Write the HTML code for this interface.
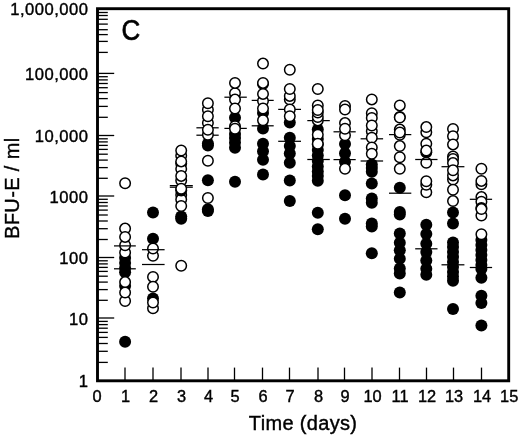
<!DOCTYPE html>
<html><head><meta charset="utf-8"><title>BFU-E / ml vs Time (days)</title>
<style>html,body{margin:0;padding:0;background:#fff}svg{display:block}text{font-family:"Liberation Sans",Arial,Helvetica,sans-serif;fill:#000;stroke:#000;stroke-width:0.4px}</style>
</head><body>
<svg width="520" height="437" viewBox="0 0 520 437">
<rect width="520" height="437" fill="#fff"/>
<rect x="97.5" y="8.7" width="411.2" height="372.1" fill="none" stroke="#000" stroke-width="2.9"/>
<g stroke="#000" stroke-width="1.3">
<line x1="97.5" y1="52.4" x2="107.8" y2="52.4"/>
<line x1="97.5" y1="41.4" x2="107.8" y2="41.4"/>
<line x1="97.5" y1="34.6" x2="107.8" y2="34.6"/>
<line x1="97.5" y1="29.7" x2="107.8" y2="29.7"/>
<line x1="97.5" y1="24.1" x2="107.8" y2="24.1"/>
<line x1="97.5" y1="19.3" x2="107.8" y2="19.3"/>
<line x1="97.5" y1="15.5" x2="107.8" y2="15.5"/>
<line x1="97.5" y1="12.5" x2="107.8" y2="12.5"/>
<line x1="97.5" y1="73.4" x2="114.2" y2="73.4"/>
<line x1="97.5" y1="117.3" x2="107.8" y2="117.3"/>
<line x1="97.5" y1="106.4" x2="107.8" y2="106.4"/>
<line x1="97.5" y1="98.6" x2="107.8" y2="98.6"/>
<line x1="97.5" y1="92.6" x2="107.8" y2="92.6"/>
<line x1="97.5" y1="87.7" x2="107.8" y2="87.7"/>
<line x1="97.5" y1="83.5" x2="107.8" y2="83.5"/>
<line x1="97.5" y1="79.9" x2="107.8" y2="79.9"/>
<line x1="97.5" y1="76.7" x2="107.8" y2="76.7"/>
<line x1="97.5" y1="135.5" x2="114.2" y2="135.5"/>
<line x1="97.5" y1="178.3" x2="107.8" y2="178.3"/>
<line x1="97.5" y1="167.6" x2="107.8" y2="167.6"/>
<line x1="97.5" y1="160.1" x2="107.8" y2="160.1"/>
<line x1="97.5" y1="154.2" x2="107.8" y2="154.2"/>
<line x1="97.5" y1="149.4" x2="107.8" y2="149.4"/>
<line x1="97.5" y1="145.4" x2="107.8" y2="145.4"/>
<line x1="97.5" y1="141.9" x2="107.8" y2="141.9"/>
<line x1="97.5" y1="138.8" x2="107.8" y2="138.8"/>
<line x1="97.5" y1="196.0" x2="114.2" y2="196.0"/>
<line x1="97.5" y1="239.5" x2="107.8" y2="239.5"/>
<line x1="97.5" y1="228.7" x2="107.8" y2="228.7"/>
<line x1="97.5" y1="221.0" x2="107.8" y2="221.0"/>
<line x1="97.5" y1="215.0" x2="107.8" y2="215.0"/>
<line x1="97.5" y1="210.1" x2="107.8" y2="210.1"/>
<line x1="97.5" y1="206.0" x2="107.8" y2="206.0"/>
<line x1="97.5" y1="202.5" x2="107.8" y2="202.5"/>
<line x1="97.5" y1="199.3" x2="107.8" y2="199.3"/>
<line x1="97.5" y1="257.5" x2="114.2" y2="257.5"/>
<line x1="97.5" y1="300.3" x2="107.8" y2="300.3"/>
<line x1="97.5" y1="289.6" x2="107.8" y2="289.6"/>
<line x1="97.5" y1="282.1" x2="107.8" y2="282.1"/>
<line x1="97.5" y1="276.2" x2="107.8" y2="276.2"/>
<line x1="97.5" y1="271.4" x2="107.8" y2="271.4"/>
<line x1="97.5" y1="267.4" x2="107.8" y2="267.4"/>
<line x1="97.5" y1="263.9" x2="107.8" y2="263.9"/>
<line x1="97.5" y1="260.8" x2="107.8" y2="260.8"/>
<line x1="97.5" y1="318.0" x2="114.2" y2="318.0"/>
<line x1="97.5" y1="362.4" x2="107.8" y2="362.4"/>
<line x1="97.5" y1="351.3" x2="107.8" y2="351.3"/>
<line x1="97.5" y1="343.5" x2="107.8" y2="343.5"/>
<line x1="97.5" y1="337.4" x2="107.8" y2="337.4"/>
<line x1="97.5" y1="332.4" x2="107.8" y2="332.4"/>
<line x1="97.5" y1="328.2" x2="107.8" y2="328.2"/>
<line x1="97.5" y1="324.6" x2="107.8" y2="324.6"/>
<line x1="97.5" y1="321.4" x2="107.8" y2="321.4"/>
<line x1="125" y1="380.8" x2="125" y2="367.6"/>
<line x1="153" y1="380.8" x2="153" y2="367.6"/>
<line x1="181" y1="380.8" x2="181" y2="367.6"/>
<line x1="208" y1="380.8" x2="208" y2="367.6"/>
<line x1="234.5" y1="380.8" x2="234.5" y2="367.6"/>
<line x1="262.5" y1="380.8" x2="262.5" y2="367.6"/>
<line x1="289.5" y1="380.8" x2="289.5" y2="367.6"/>
<line x1="318" y1="380.8" x2="318" y2="367.6"/>
<line x1="344.5" y1="380.8" x2="344.5" y2="367.6"/>
<line x1="372" y1="380.8" x2="372" y2="367.6"/>
<line x1="399.5" y1="380.8" x2="399.5" y2="367.6"/>
<line x1="426.5" y1="380.8" x2="426.5" y2="367.6"/>
<line x1="453.5" y1="380.8" x2="453.5" y2="367.6"/>
<line x1="481.5" y1="380.8" x2="481.5" y2="367.6"/>
</g>
<g stroke="#000" stroke-width="1.25">
<line x1="169.8" y1="185.6" x2="192.8" y2="185.6"/>
<line x1="169.8" y1="187.2" x2="192.8" y2="187.2"/>
<line x1="196.4" y1="127.8" x2="218.7" y2="127.8"/>
<line x1="196.4" y1="135.2" x2="218.7" y2="135.2"/>
<line x1="224.4" y1="97.2" x2="246.8" y2="97.2"/>
<line x1="224.4" y1="128.4" x2="246.8" y2="128.4"/>
<line x1="251.7" y1="100.4" x2="273.7" y2="100.4"/>
<line x1="251.7" y1="125.8" x2="273.7" y2="125.8"/>
<line x1="278.2" y1="109.4" x2="301.0" y2="109.4"/>
<line x1="278.2" y1="141.3" x2="301.0" y2="141.3"/>
<line x1="307.3" y1="120.6" x2="329.8" y2="120.6"/>
<line x1="307.3" y1="159.5" x2="329.8" y2="159.5"/>
<line x1="333.5" y1="131.8" x2="355.7" y2="131.8"/>
<line x1="333.5" y1="159.6" x2="355.7" y2="159.6"/>
<line x1="360.6" y1="138.8" x2="383.1" y2="138.8"/>
<line x1="360.6" y1="161.0" x2="383.1" y2="161.0"/>
<line x1="389.0" y1="134.6" x2="411.3" y2="134.6"/>
<line x1="389.0" y1="193.2" x2="411.3" y2="193.2"/>
<line x1="441.5" y1="166.7" x2="464.4" y2="166.7"/>
<line x1="441.5" y1="264.8" x2="464.4" y2="264.8"/>
<line x1="469.8" y1="199.3" x2="492.1" y2="199.3"/>
<line x1="469.8" y1="267.5" x2="492.1" y2="267.5"/>
</g>
<g fill="#000">
<circle cx="125.1" cy="258" r="6"/>
<circle cx="125.1" cy="263" r="6"/>
<circle cx="125.1" cy="268" r="6"/>
<circle cx="125.1" cy="272.2" r="6"/>
<circle cx="125.1" cy="286" r="6"/>
<circle cx="125.1" cy="341.7" r="6"/>
<circle cx="153.0" cy="212.5" r="6"/>
<circle cx="153.0" cy="238.7" r="6"/>
<circle cx="153.0" cy="298.4" r="6"/>
<circle cx="181.2" cy="216.5" r="6"/>
<circle cx="181.2" cy="218.8" r="6"/>
<circle cx="207.9" cy="143.5" r="6"/>
<circle cx="207.9" cy="145.6" r="6"/>
<circle cx="207.9" cy="180.2" r="6"/>
<circle cx="207.9" cy="209.2" r="6"/>
<circle cx="207.9" cy="211.1" r="6"/>
<circle cx="235.0" cy="117.7" r="6"/>
<circle cx="235.0" cy="134" r="6"/>
<circle cx="235.0" cy="138" r="6"/>
<circle cx="235.0" cy="142.5" r="6"/>
<circle cx="235.0" cy="147.7" r="6"/>
<circle cx="235.0" cy="181.7" r="6"/>
<circle cx="263.0" cy="113" r="6"/>
<circle cx="263.0" cy="128.5" r="6"/>
<circle cx="263.0" cy="143.8" r="6"/>
<circle cx="263.0" cy="151.3" r="6"/>
<circle cx="263.0" cy="159.8" r="6"/>
<circle cx="263.0" cy="174.5" r="6"/>
<circle cx="289.8" cy="122.5" r="6"/>
<circle cx="289.8" cy="137.7" r="6"/>
<circle cx="289.8" cy="146" r="6"/>
<circle cx="289.8" cy="153.5" r="6"/>
<circle cx="289.8" cy="162.7" r="6"/>
<circle cx="289.8" cy="180.6" r="6"/>
<circle cx="289.8" cy="201.0" r="6"/>
<circle cx="317.8" cy="129.6" r="6"/>
<circle cx="317.8" cy="139" r="6"/>
<circle cx="317.8" cy="144.5" r="6"/>
<circle cx="317.8" cy="150" r="6"/>
<circle cx="317.8" cy="155.5" r="6"/>
<circle cx="317.8" cy="161" r="6"/>
<circle cx="317.8" cy="166.5" r="6"/>
<circle cx="317.8" cy="171.5" r="6"/>
<circle cx="317.8" cy="176" r="6"/>
<circle cx="317.8" cy="180.7" r="6"/>
<circle cx="317.8" cy="212.8" r="6"/>
<circle cx="317.8" cy="229.2" r="6"/>
<circle cx="345.0" cy="144" r="6"/>
<circle cx="345.0" cy="153.3" r="6"/>
<circle cx="345.0" cy="161.8" r="6"/>
<circle cx="345.0" cy="195.2" r="6"/>
<circle cx="345.0" cy="218.8" r="6"/>
<circle cx="371.8" cy="164.5" r="6"/>
<circle cx="371.8" cy="168" r="6"/>
<circle cx="371.8" cy="171.8" r="6"/>
<circle cx="371.8" cy="183.5" r="6"/>
<circle cx="371.8" cy="198.4" r="6"/>
<circle cx="371.8" cy="202.7" r="6"/>
<circle cx="371.8" cy="223.4" r="6"/>
<circle cx="371.8" cy="226.6" r="6"/>
<circle cx="371.8" cy="253.3" r="6"/>
<circle cx="399.8" cy="187.7" r="6"/>
<circle cx="399.8" cy="212" r="6"/>
<circle cx="399.8" cy="214.6" r="6"/>
<circle cx="399.8" cy="233.5" r="6"/>
<circle cx="399.8" cy="242.7" r="6"/>
<circle cx="399.8" cy="250.3" r="6"/>
<circle cx="399.8" cy="258.7" r="6"/>
<circle cx="399.8" cy="268.5" r="6"/>
<circle cx="399.8" cy="273.5" r="6"/>
<circle cx="399.8" cy="292.5" r="6"/>
<circle cx="426.3" cy="224.8" r="6"/>
<circle cx="426.3" cy="234" r="6"/>
<circle cx="426.3" cy="243.8" r="6"/>
<circle cx="426.3" cy="252" r="6"/>
<circle cx="426.3" cy="260.5" r="6"/>
<circle cx="426.3" cy="268.8" r="6"/>
<circle cx="426.3" cy="274.7" r="6"/>
<circle cx="453.0" cy="212.5" r="6"/>
<circle cx="453.0" cy="223.5" r="6"/>
<circle cx="453.0" cy="242.4" r="6"/>
<circle cx="453.0" cy="247" r="6"/>
<circle cx="453.0" cy="252" r="6"/>
<circle cx="453.0" cy="257" r="6"/>
<circle cx="453.0" cy="262" r="6"/>
<circle cx="453.0" cy="267" r="6"/>
<circle cx="453.0" cy="272" r="6"/>
<circle cx="453.0" cy="276.5" r="6"/>
<circle cx="453.0" cy="280.8" r="6"/>
<circle cx="453.0" cy="309" r="6"/>
<circle cx="481.4" cy="240" r="6"/>
<circle cx="481.4" cy="245" r="6"/>
<circle cx="481.4" cy="250" r="6"/>
<circle cx="481.4" cy="255" r="6"/>
<circle cx="481.4" cy="260" r="6"/>
<circle cx="481.4" cy="265" r="6"/>
<circle cx="481.4" cy="269" r="6"/>
<circle cx="481.4" cy="277.8" r="6"/>
<circle cx="481.4" cy="295.7" r="6"/>
<circle cx="481.4" cy="303" r="6"/>
<circle cx="481.4" cy="325.4" r="6"/>
</g>
<g fill="#fff" stroke="#000" stroke-width="1.5">
<circle cx="125.1" cy="183.3" r="5.25"/>
<circle cx="125.1" cy="228.6" r="5.25"/>
<circle cx="125.1" cy="252.5" r="5.25"/>
<circle cx="125.1" cy="245.2" r="5.25"/>
<circle cx="125.1" cy="236.9" r="5.25"/>
<circle cx="125.1" cy="301.0" r="5.25"/>
<circle cx="125.1" cy="292.5" r="5.25"/>
<circle cx="125.1" cy="282.1" r="5.25"/>
<circle cx="153.0" cy="255.8" r="5.25"/>
<circle cx="153.0" cy="248.5" r="5.25"/>
<circle cx="153.0" cy="276.9" r="5.25"/>
<circle cx="153.0" cy="286.7" r="5.25"/>
<circle cx="153.0" cy="308.3" r="5.25"/>
<circle cx="153.0" cy="302.5" r="5.25"/>
<circle cx="181.2" cy="155.7" r="5.25"/>
<circle cx="181.2" cy="163.5" r="5.25"/>
<circle cx="181.2" cy="169" r="5.25"/>
<circle cx="181.2" cy="180.5" r="5.25"/>
<circle cx="181.2" cy="195" r="5.25"/>
<circle cx="181.2" cy="199.5" r="5.25"/>
<circle cx="207.9" cy="109.8" r="5.25"/>
<circle cx="207.9" cy="122.9" r="5.25"/>
<circle cx="207.9" cy="134.8" r="5.25"/>
<circle cx="207.9" cy="103.3" r="5.25"/>
<circle cx="207.9" cy="116.3" r="5.25"/>
<circle cx="207.9" cy="129.8" r="5.25"/>
<circle cx="207.9" cy="160.8" r="5.25"/>
<circle cx="207.9" cy="198.0" r="5.25"/>
<circle cx="235.0" cy="93.3" r="5.25"/>
<circle cx="235.0" cy="99.6" r="5.25"/>
<circle cx="235.0" cy="82.9" r="5.25"/>
<circle cx="235.0" cy="108.5" r="5.25"/>
<circle cx="235.0" cy="126.3" r="5.25"/>
<circle cx="235.0" cy="128.7" r="5.25"/>
<circle cx="263.0" cy="63.6" r="5.25"/>
<circle cx="263.0" cy="84" r="5.25"/>
<circle cx="263.0" cy="82.9" r="5.25"/>
<circle cx="263.0" cy="101" r="5.25"/>
<circle cx="263.0" cy="93.9" r="5.25"/>
<circle cx="263.0" cy="108.5" r="5.25"/>
<circle cx="263.0" cy="120.2" r="5.25"/>
<circle cx="289.8" cy="69.8" r="5.25"/>
<circle cx="289.8" cy="99.5" r="5.25"/>
<circle cx="289.8" cy="95.9" r="5.25"/>
<circle cx="289.8" cy="89.0" r="5.25"/>
<circle cx="289.8" cy="109.4" r="5.25"/>
<circle cx="289.8" cy="116.3" r="5.25"/>
<circle cx="317.8" cy="89.0" r="5.25"/>
<circle cx="317.8" cy="120.4" r="5.25"/>
<circle cx="317.8" cy="117" r="5.25"/>
<circle cx="317.8" cy="112.5" r="5.25"/>
<circle cx="317.8" cy="105.5" r="5.25"/>
<circle cx="317.8" cy="110" r="5.25"/>
<circle cx="317.8" cy="134.8" r="5.25"/>
<circle cx="317.8" cy="143.8" r="5.25"/>
<circle cx="345.0" cy="106" r="5.25"/>
<circle cx="345.0" cy="109.5" r="5.25"/>
<circle cx="345.0" cy="123.1" r="5.25"/>
<circle cx="345.0" cy="135.2" r="5.25"/>
<circle cx="345.0" cy="128.7" r="5.25"/>
<circle cx="345.0" cy="168.7" r="5.25"/>
<circle cx="371.8" cy="99.4" r="5.25"/>
<circle cx="371.8" cy="113.3" r="5.25"/>
<circle cx="371.8" cy="117.9" r="5.25"/>
<circle cx="371.8" cy="131.3" r="5.25"/>
<circle cx="371.8" cy="125.5" r="5.25"/>
<circle cx="371.8" cy="137.7" r="5.25"/>
<circle cx="371.8" cy="147.5" r="5.25"/>
<circle cx="371.8" cy="153.8" r="5.25"/>
<circle cx="399.8" cy="105.4" r="5.25"/>
<circle cx="399.8" cy="116.9" r="5.25"/>
<circle cx="399.8" cy="117.5" r="5.25"/>
<circle cx="399.8" cy="129.6" r="5.25"/>
<circle cx="399.8" cy="134.8" r="5.25"/>
<circle cx="399.8" cy="132.5" r="5.25"/>
<circle cx="399.8" cy="146.1" r="5.25"/>
<circle cx="399.8" cy="157.2" r="5.25"/>
<circle cx="399.8" cy="168.7" r="5.25"/>
<circle cx="426.3" cy="132.3" r="5.25"/>
<circle cx="426.3" cy="127.1" r="5.25"/>
<circle cx="426.3" cy="143.7" r="5.25"/>
<circle cx="426.3" cy="162.7" r="5.25"/>
<circle cx="426.3" cy="192.3" r="5.25"/>
<circle cx="426.3" cy="184.8" r="5.25"/>
<circle cx="426.3" cy="181.3" r="5.25"/>
<circle cx="453.0" cy="128.9" r="5.25"/>
<circle cx="453.0" cy="136.3" r="5.25"/>
<circle cx="453.0" cy="144.4" r="5.25"/>
<circle cx="453.0" cy="156.4" r="5.25"/>
<circle cx="453.0" cy="159" r="5.25"/>
<circle cx="453.0" cy="163.1" r="5.25"/>
<circle cx="453.0" cy="179.6" r="5.25"/>
<circle cx="453.0" cy="175.4" r="5.25"/>
<circle cx="453.0" cy="170.2" r="5.25"/>
<circle cx="453.0" cy="189.7" r="5.25"/>
<circle cx="453.0" cy="201.1" r="5.25"/>
<circle cx="481.4" cy="168.8" r="5.25"/>
<circle cx="481.4" cy="184.3" r="5.25"/>
<circle cx="481.4" cy="180.9" r="5.25"/>
<circle cx="481.4" cy="197.1" r="5.25"/>
<circle cx="481.4" cy="201.8" r="5.25"/>
</g>
<g fill="#000">
<circle cx="181.2" cy="190.4" r="6"/>
<circle cx="426.3" cy="152.3" r="6"/>
<circle cx="481.4" cy="208.0" r="6"/>
</g>
<g fill="#fff" stroke="#000" stroke-width="1.5">
<circle cx="181.2" cy="150.5" r="5.25"/>
<circle cx="181.2" cy="161.4" r="5.25"/>
<circle cx="181.2" cy="175.9" r="5.25"/>
<circle cx="181.2" cy="188.7" r="5.25"/>
<circle cx="181.2" cy="206.0" r="5.25"/>
<circle cx="181.2" cy="265.7" r="5.25"/>
<circle cx="426.3" cy="150.6" r="5.25"/>
<circle cx="481.4" cy="215.6" r="5.25"/>
<circle cx="481.4" cy="209.1" r="5.25"/>
<circle cx="481.4" cy="234.2" r="5.25"/>
</g>
<g stroke="#000" stroke-width="1.25">
<line x1="114.0" y1="245.9" x2="135.8" y2="245.9"/>
<line x1="114.0" y1="268.8" x2="135.8" y2="268.8"/>
<line x1="142.0" y1="249.7" x2="164.6" y2="249.7"/>
<line x1="142.0" y1="264.5" x2="164.6" y2="264.5"/>
<line x1="415.2" y1="159.5" x2="437.5" y2="159.5"/>
<line x1="415.2" y1="248.8" x2="437.5" y2="248.8"/>
</g>
<g font-size="16.6" text-anchor="end" letter-spacing="0.5">
<text x="88.5" y="15.3">1,000,000</text>
<text x="88.5" y="80.0">100,000</text>
<text x="88.5" y="142.1">10,000</text>
<text x="88.5" y="202.6">1000</text>
<text x="88.5" y="264.1">100</text>
<text x="88.5" y="324.6">10</text>
<text x="88.5" y="387.4">1</text>
</g>
<g font-size="16.4" text-anchor="middle">
<text x="97.1" y="401.7">0</text>
<text x="125.5" y="401.7">1</text>
<text x="153.5" y="401.7">2</text>
<text x="181.5" y="401.7">3</text>
<text x="208.5" y="401.7">4</text>
<text x="235.0" y="401.7">5</text>
<text x="263.0" y="401.7">6</text>
<text x="290.0" y="401.7">7</text>
<text x="318.5" y="401.7">8</text>
<text x="345.0" y="401.7">9</text>
<text x="372.5" y="401.7">10</text>
<text x="400.0" y="401.7">11</text>
<text x="427.0" y="401.7">12</text>
<text x="454.0" y="401.7">13</text>
<text x="482.0" y="401.7">14</text>
<text x="509.2" y="401.7">15</text>
</g>
<text x="303.1" y="429.5" font-size="20" text-anchor="middle" letter-spacing="0.33">Time (days)</text>
<text transform="translate(18.9,188.2) rotate(-90)" font-size="20" text-anchor="middle" letter-spacing="0.38">BFU-E / ml</text>
<text transform="translate(130.8,39.5) scale(1,1.12)" font-size="26" text-anchor="middle" style="stroke-width:0.6px">C</text>
</svg></body></html>
